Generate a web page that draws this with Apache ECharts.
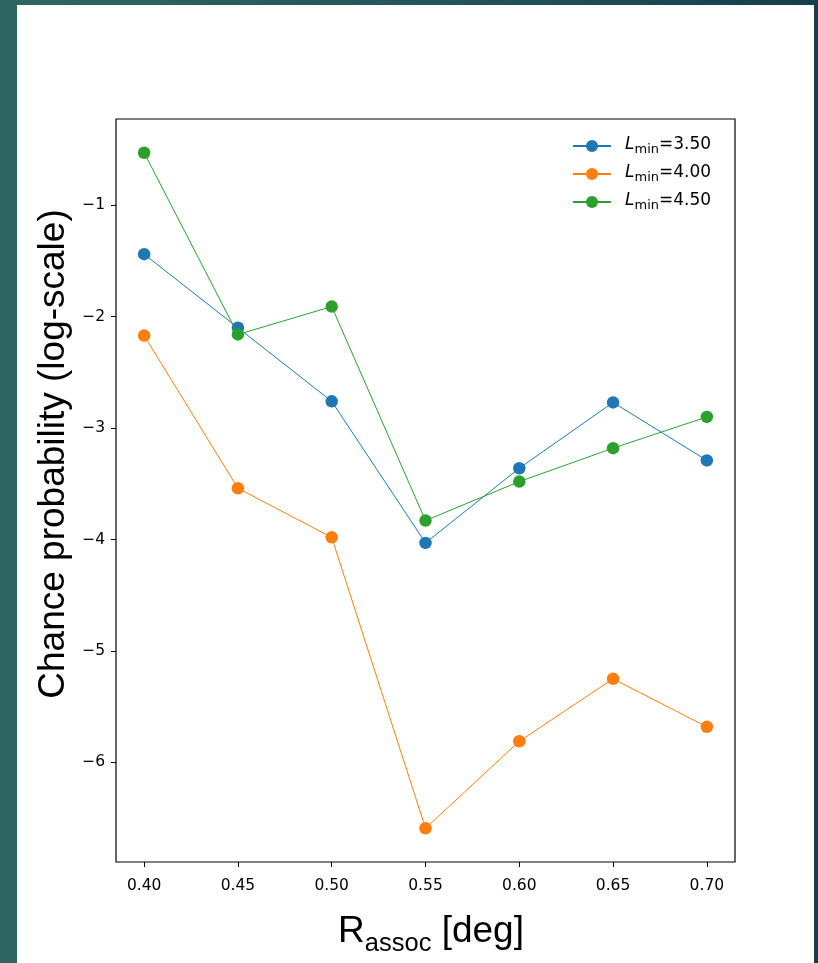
<!DOCTYPE html>
<html>
<head>
<meta charset="utf-8">
<script src="https://cdn.jsdelivr.net/npm/echarts@6/dist/echarts.min.js"></script>
<style>
  html, body { margin: 0; padding: 0; width: 818px; height: 963px; overflow: hidden; }
  body { background: linear-gradient(to right, #2e6761 0%, #24535a 55%, #163d4d 100%); position: relative; }
  #panel { position: absolute; left: 17px; top: 5px; width: 797px; height: 958px; background: #ffffff; }
</style>
</head>
<body>
<div id="panel"></div>
<script>
// Association radius (deg) on the x axis
const radii = [0.40, 0.45, 0.50, 0.55, 0.60, 0.65, 0.70];
// log10 chance probability for each luminosity threshold
const chanceL350 = [-1.44, -2.10, -2.76, -4.03, -3.36, -2.77, -3.29];
const chanceL400 = [-2.17, -3.54, -3.98, -6.59, -5.81, -5.25, -5.68];
const chanceL450 = [-0.53, -2.16, -1.91, -3.83, -3.48, -3.18, -2.90];
const thresholds = ['3.50', '4.00', '4.50'];
const xTicks = [0.40, 0.45, 0.50, 0.55, 0.60, 0.65, 0.70];
const yTicks = [-6, -5, -4, -3, -2, -1];

const colors = ['#1f77b4', '#ff7f0e', '#2ca02c'];
const seriesValues = [chanceL350, chanceL400, chanceL450];

const chart = echarts.init(document.getElementById('panel'), null, { renderer: 'canvas' });

const tickFont = 'DejaVu Sans';
const labelFont = 'Liberation Sans';

function pairs(vals) {
  return radii.map((r, i) => [r, vals[i]]);
}

const series = thresholds.map((t, k) => ({
  name: 'L' + t,
  type: 'line',
  data: pairs(seriesValues[k]),
  symbol: 'circle',
  symbolSize: 12.5,
  showSymbol: true,
  color: colors[k],
  lineStyle: { width: 1, color: colors[k] },
  itemStyle: { color: colors[k], borderWidth: 0 },
  emphasis: { disabled: true },
  animation: false,
  z: 2 + k
}));

chart.setOption({
  animation: false,
  grid: {
    left: 99, top: 114, width: 619, height: 743,
    show: true, borderColor: '#000', borderWidth: 1.2, backgroundColor: 'transparent'
  },
  xAxis: {
    type: 'value',
    min: 0.385, max: 0.715,
    axisLine: { show: false },
    splitLine: { show: false },
    axisTick: { show: true, inside: false, length: 5, lineStyle: { color: '#000', width: 1 }, customValues: xTicks },
    axisLabel: {
      customValues: xTicks,
      margin: 16,
      fontFamily: tickFont, fontSize: 15.5, color: '#000',
      formatter: v => v.toFixed(2)
    }
  },
  yAxis: {
    type: 'value',
    min: -6.893, max: -0.227,
    axisLine: { show: false },
    splitLine: { show: false },
    axisTick: { show: true, inside: false, length: 5, lineStyle: { color: '#000', width: 1 }, customValues: yTicks },
    axisLabel: {
      customValues: yTicks,
      margin: 11,
      fontFamily: tickFont, fontSize: 15.5, color: '#000',
      formatter: v => (v < 0 ? '\u2212' : '') + Math.abs(Math.round(v))
    }
  },
  legend: {
    orient: 'vertical',
    left: 550, top: 126,
    itemWidth: 38, itemHeight: 15, itemGap: 8,
    selectedMode: false,
    data: series.map(s => s.name),
    formatter: name => '{l|L}{s|min}{n|=' + name.slice(1) + '}',
    textStyle: {
      rich: {
        l: { fontFamily: tickFont, fontStyle: 'italic', fontSize: 17, color: '#000', padding: [0, 0, 3, 9], verticalAlign: 'bottom' },
        s: { fontFamily: tickFont, fontSize: 13, color: '#000', verticalAlign: 'bottom' },
        n: { fontFamily: tickFont, fontSize: 17, color: '#000', padding: [0, 0, 3, 0], verticalAlign: 'bottom' }
      }
    }
  },
  graphic: [
    {
      type: 'text',
      x: 414, y: 930,
      style: {
        text: '{r|R}{s|assoc}{r| [deg]}',
        align: 'center', verticalAlign: 'middle',
        rich: {
          r: { fontFamily: labelFont, fontSize: 37, fill: '#000', padding: [0, 0, 6, 0], verticalAlign: 'bottom' },
          s: { fontFamily: labelFont, fontSize: 25.5, fill: '#000', verticalAlign: 'bottom' }
        }
      }
    },
    {
      type: 'text',
      x: 37, y: 449,
      rotation: Math.PI / 2,
      style: {
        text: 'Chance probability (log-scale)',
        fontFamily: labelFont, fontSize: 37, fill: '#000',
        align: 'center', verticalAlign: 'middle'
      }
    }
  ],
  series: series
});
</script>
</body>
</html>
